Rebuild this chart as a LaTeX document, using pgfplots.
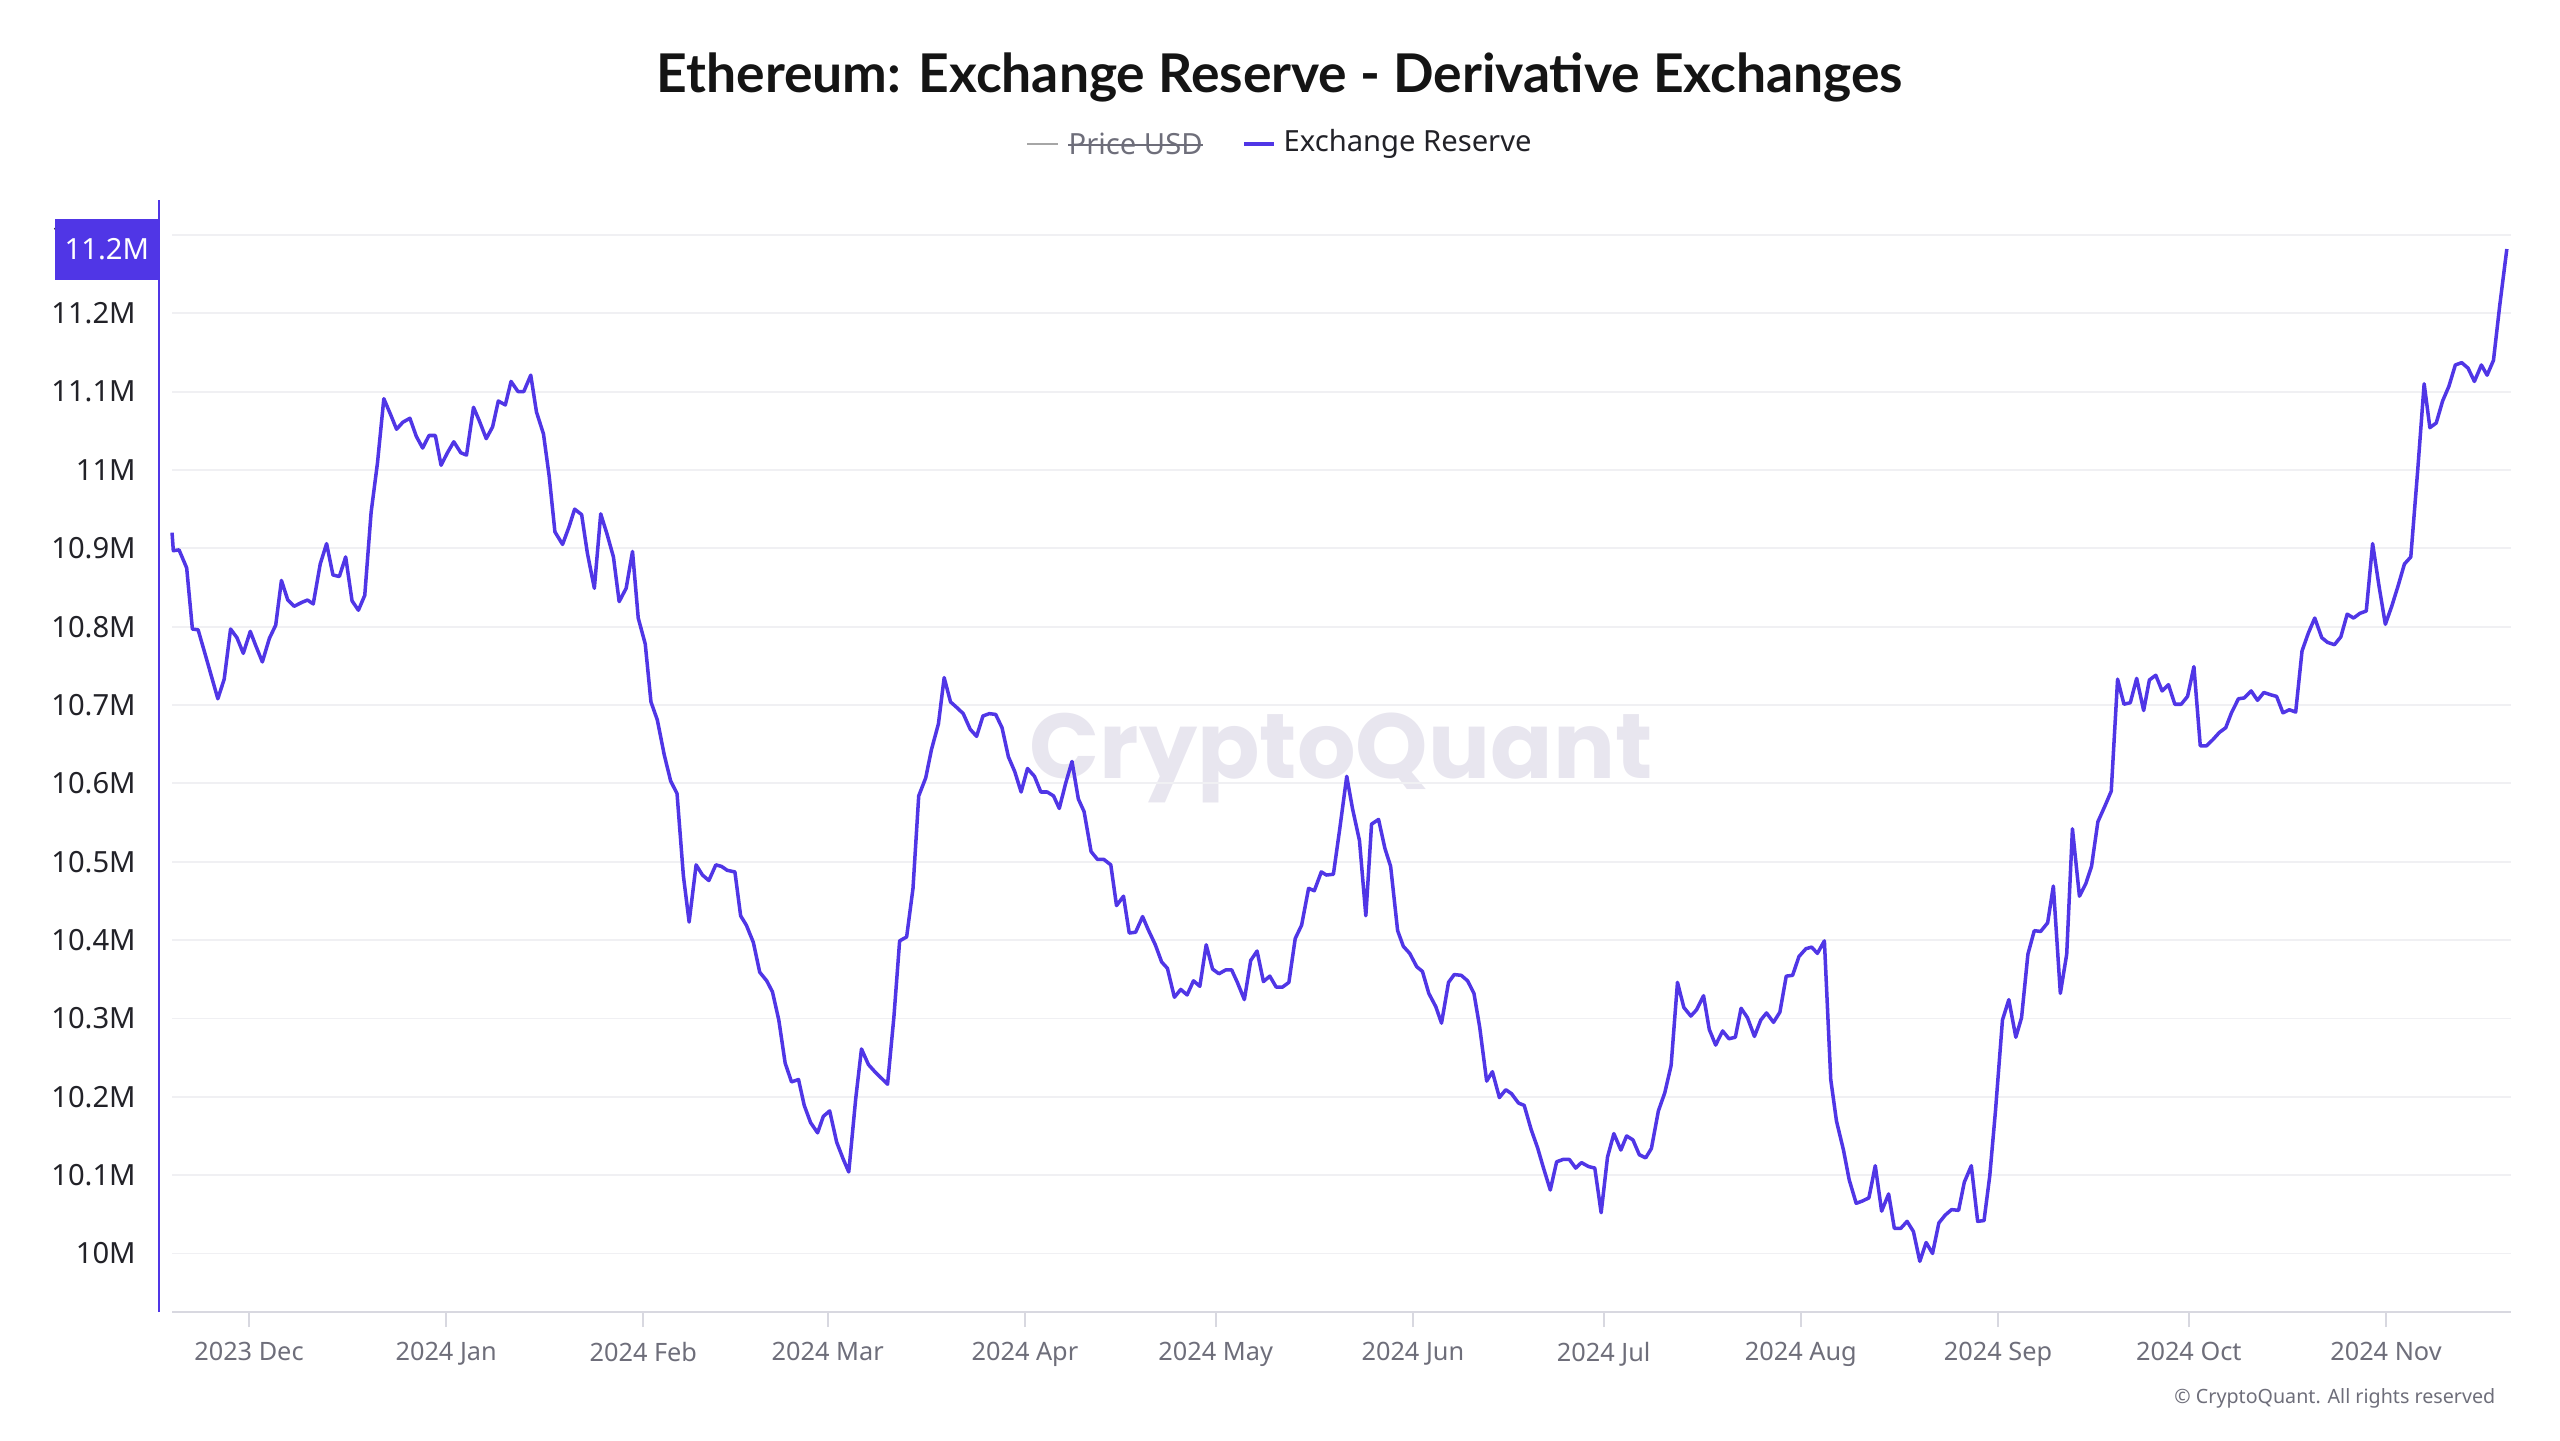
\documentclass[border=0pt]{standalone}
\usepackage{pgfplots}
\pgfplotsset{compat=1.18}
\usepackage{fontspec}
\setmainfont{Noto Sans}
\newfontfamily\wmfont{Poppins}
\newfontfamily\titlefont{Lato}
\definecolor{lineblue}{HTML}{5036E6}
\definecolor{gridcol}{HTML}{F0F0F3}
\definecolor{axgray}{HTML}{D8D8E0}
\definecolor{ticktext}{HTML}{6E6E7A}
\definecolor{ylabtext}{HTML}{222228}
\definecolor{wmcol}{HTML}{E8E6EF}

\begin{document}
\begin{tikzpicture}
\useasboundingbox (0,0) rectangle (25.6,14.4);

% watermark
\node[text=wmcol, font=\wmfont\bfseries\fontsize{26.2}{28}\selectfont] at (13.41,6.82) {CryptoQuant};

% title
\node[font=\titlefont\bfseries\fontsize{15.2}{17}\selectfont, text=black!92] at (12.80,13.63)
  {Ethereum: Exchange Reserve - Derivative Exchanges};

% legend
\draw[color=black!35, line width=0.5pt] (10.27,12.96) -- (10.58,12.96);
\node[anchor=west, inner sep=0pt, text=ticktext, font=\fontsize{8.3}{10}\selectfont] (pu) at (10.68,12.96) {Price USD};
\draw[ticktext, line width=0.5pt] (pu.mid west) -- (pu.mid east);
\draw[lineblue, line width=1pt] (12.44,12.96) -- (12.74,12.96);
\node[anchor=west, inner sep=0pt, text=ylabtext, font=\fontsize{8.3}{10}\selectfont] at (12.83,12.96) {Exchange Reserve};

% copyright
\node[anchor=east, inner sep=0pt, text=ticktext, font=\fontsize{5.6}{7}\selectfont] at (24.96,0.42)
  {\textcopyright{} CryptoQuant. All rights reserved};

\begin{axis}[
  at={(1.72cm,1.28cm)}, anchor=south west,
  width=23.39cm, height=11.12cm, scale only axis,
  xmin=-12.107, xmax=355.66, ymin=9.9253, ymax=11.3446,
  axis x line*=bottom, axis y line*=left,
  x axis line style={-, draw=axgray, line width=0.6pt},
  y axis line style={draw=none},
  ytick={10,10.1,10.2,10.3,10.4,10.5,10.6,10.7,10.8,10.9,11,11.1,11.2,11.3},
  yticklabels={10M,10.1M,10.2M,10.3M,10.4M,10.5M,10.6M,10.7M,10.8M,10.9M,11M,11.1M,11.2M,11.3M},
  xtick={0,31,62,91,122,152,183,213,244,275,305,336},
  xticklabels={2023 Dec,2024 Jan,2024 Feb,2024 Mar,2024 Apr,2024 May,2024 Jun,2024 Jul,2024 Aug,2024 Sep,2024 Oct,2024 Nov},
  ytick style={draw=none},
  xtick style={draw=axgray, line width=0.5pt},
  major tick length=4.3pt, tick align=outside,
  ymajorgrids, major grid style={draw=gridcol, line width=0.5pt},
  yticklabel style={font=\fontsize{8.3}{10}\selectfont, text=ylabtext, xshift=-2.5pt},
  xticklabel style={font=\fontsize{7.2}{9}\selectfont, text=ticktext, yshift=-0.7pt},
  clip=false,
]
\addplot[draw=lineblue, line width=1pt, line join=round, mark=none] coordinates {
(-12.1,10.920) (-11.9,10.897) (-11.0,10.898) (-9.8,10.875) (-8.9,10.797) (-8.0,10.796)
(-6.9,10.765) (-4.9,10.708) (-3.9,10.733) (-2.9,10.797) (-1.9,10.786) (-0.9,10.766)
(0.2,10.794) (1.1,10.775) (2.1,10.755) (3.2,10.785) (4.2,10.802) (5.1,10.859)
(6.1,10.834) (7.1,10.826) (8.3,10.831) (9.2,10.834) (10.1,10.829) (11.2,10.880)
(12.2,10.906) (13.2,10.866) (14.2,10.864) (15.2,10.889) (16.2,10.833) (17.2,10.821)
(18.2,10.840) (19.2,10.946) (20.2,11.009) (21.2,11.091) (22.3,11.070) (23.2,11.052)
(24.2,11.061) (25.3,11.066) (26.3,11.043) (27.3,11.028) (28.3,11.044) (29.3,11.044)
(30.2,11.006) (31.2,11.022) (32.2,11.036) (33.3,11.022) (34.2,11.019) (35.3,11.080)
(36.2,11.063) (37.3,11.040) (38.3,11.055) (39.2,11.088) (40.3,11.083) (41.2,11.113)
(42.3,11.100) (43.2,11.100) (44.3,11.121) (45.2,11.074) (46.3,11.046) (47.2,10.992)
(48.1,10.921) (49.3,10.905)
(50.3,10.927) (51.2,10.950) (52.3,10.943) (53.2,10.894) (54.3,10.849) (55.3,10.944)
(56.3,10.918) (57.3,10.889) (58.2,10.832) (59.3,10.849) (60.3,10.896) (61.2,10.811)
(62.3,10.778) (63.2,10.704) (64.2,10.681) (65.3,10.636) (66.3,10.603) (67.3,10.587)
(68.3,10.482) (69.2,10.423) (70.3,10.496) (71.3,10.483) (72.3,10.476) (73.4,10.496)
(74.3,10.494) (75.2,10.489) (76.4,10.487) (77.3,10.431) (78.2,10.419) (79.3,10.397)
(80.3,10.359) (81.4,10.348) (82.3,10.334) (83.3,10.298) (84.3,10.243) (85.3,10.219)
(86.4,10.222) (87.3,10.189) (88.3,10.167) (89.4,10.154) (90.3,10.175) (91.3,10.182)
(92.4,10.142) (93.4,10.121) (94.3,10.104) (95.4,10.198) (96.3,10.261) (97.4,10.241)
(98.4,10.232) (99.4,10.224) (100.4,10.216) (101.4,10.302) (102.3,10.399) (103.4,10.404)
(104.4,10.466) (105.3,10.584) (106.4,10.607) (107.3,10.643) (108.4,10.676) (109.3,10.735)
(110.3,10.704)
(111.4,10.696) (112.3,10.689) (113.4,10.669) (114.4,10.660) (115.4,10.686) (116.4,10.689)
(117.4,10.688) (118.4,10.671) (119.4,10.634) (120.4,10.615) (121.4,10.589) (122.4,10.619)
(123.5,10.609) (124.5,10.589) (125.5,10.589) (126.5,10.584) (127.4,10.568) (128.4,10.600)
(129.4,10.628) (130.4,10.580) (131.3,10.564) (132.4,10.513) (133.4,10.503) (134.4,10.503)
(135.5,10.496) (136.4,10.444) (137.5,10.456) (138.4,10.409) (139.4,10.410) (140.5,10.430)
(141.4,10.413) (142.5,10.394) (143.5,10.372) (144.4,10.364) (145.5,10.327) (146.5,10.337)
(147.5,10.330) (148.5,10.348) (149.5,10.341) (150.5,10.394) (151.5,10.363) (152.5,10.357)
(153.6,10.362) (154.5,10.362) (155.4,10.346) (156.5,10.324) (157.5,10.374) (158.5,10.386)
(159.5,10.347) (160.5,10.354) (161.5,10.340) (162.5,10.340) (163.5,10.346) (164.5,10.402)
(165.5,10.419) (166.6,10.466) (167.5,10.463) (168.6,10.487) (169.4,10.483) (170.5,10.484)
(171.5,10.542)
(172.6,10.609) (173.5,10.568) (174.6,10.527) (175.6,10.431) (176.5,10.548) (177.6,10.554)
(178.6,10.517) (179.5,10.494) (180.6,10.412) (181.5,10.392) (182.5,10.383) (183.6,10.366)
(184.5,10.360) (185.5,10.332) (186.6,10.315) (187.5,10.294) (188.6,10.346) (189.5,10.356)
(190.6,10.355) (191.6,10.348) (192.6,10.332) (193.5,10.289) (194.6,10.220) (195.5,10.232)
(196.6,10.199) (197.6,10.209) (198.5,10.204) (199.6,10.192) (200.5,10.189) (201.6,10.158)
(202.6,10.135) (203.5,10.110) (204.6,10.081) (205.6,10.117) (206.6,10.120) (207.6,10.120)
(208.6,10.109) (209.5,10.116) (210.6,10.111) (211.6,10.109) (212.6,10.052) (213.6,10.123)
(214.6,10.153) (215.7,10.132) (216.6,10.150) (217.6,10.145) (218.6,10.126) (219.6,10.122)
(220.5,10.134) (221.6,10.182) (222.6,10.205) (223.6,10.240) (224.6,10.346) (225.6,10.314)
(226.7,10.303) (227.6,10.311) (228.7,10.329) (229.6,10.286) (230.6,10.266) (231.7,10.284)
(232.7,10.274)
(233.7,10.276) (234.6,10.313) (235.6,10.301) (236.7,10.277) (237.7,10.298) (238.6,10.307)
(239.7,10.295) (240.7,10.308) (241.7,10.354) (242.7,10.355) (243.7,10.379) (244.8,10.389)
(245.7,10.391) (246.6,10.383) (247.7,10.399) (248.7,10.222) (249.6,10.169) (250.7,10.132)
(251.6,10.094) (252.7,10.064) (253.7,10.067) (254.7,10.071) (255.7,10.112) (256.7,10.054)
(257.8,10.076) (258.7,10.032) (259.7,10.032) (260.7,10.041) (261.7,10.028) (262.7,9.990)
(263.7,10.014) (264.7,10.000) (265.7,10.039) (266.7,10.049) (267.7,10.056) (268.8,10.055)
(269.7,10.091) (270.8,10.112) (271.8,10.041) (272.8,10.042) (273.7,10.099) (274.6,10.182)
(275.7,10.298) (276.7,10.324) (277.8,10.276) (278.7,10.301) (279.7,10.382) (280.7,10.412)
(281.7,10.411) (282.8,10.422) (283.7,10.469) (284.8,10.332) (285.8,10.382) (286.7,10.542)
(287.8,10.456) (288.8,10.472) (289.7,10.494) (290.7,10.551) (291.8,10.571) (292.8,10.590)
(293.8,10.733) (294.8,10.701)
(295.8,10.703) (296.8,10.734) (297.9,10.693) (298.8,10.732) (299.8,10.738) (300.8,10.718)
(301.8,10.726) (302.8,10.701) (303.8,10.701) (304.8,10.711) (305.8,10.749) (306.8,10.648)
(307.8,10.648) (308.8,10.656) (309.8,10.665) (310.8,10.671) (311.7,10.690) (312.8,10.708)
(313.7,10.709) (314.8,10.718) (315.8,10.706) (316.8,10.716) (317.9,10.713) (318.8,10.711)
(319.8,10.690) (320.8,10.694) (321.8,10.691) (322.8,10.769) (323.8,10.792) (324.8,10.811)
(325.9,10.786) (326.8,10.780) (327.9,10.777) (328.9,10.787) (329.9,10.816) (330.9,10.811)
(331.9,10.817) (332.9,10.820) (333.9,10.906) (334.9,10.852) (335.9,10.803) (336.9,10.826)
(337.9,10.852) (338.9,10.880) (339.9,10.889) (341.0,11.001) (342.0,11.110) (342.9,11.054)
(343.9,11.060) (344.9,11.088) (345.9,11.107) (346.9,11.134) (347.9,11.137) (348.9,11.130)
(349.9,11.113) (351.0,11.134) (351.9,11.121) (352.9,11.140) (353.9,11.211) (355.0,11.282)
};
\coordinate (lastpt) at (axis cs:-12.107,11.282);
\coordinate (ybot) at (rel axis cs:0,0);
\coordinate (ytop) at (rel axis cs:0,1);
\end{axis}

% left axis line and current value box
\draw[lineblue, line width=0.8pt] ([xshift=-0.13cm]ybot) -- ([xshift=-0.13cm]ytop);
\node[fill=lineblue, text=white, anchor=east, minimum width=1.03cm, minimum height=0.61cm,
  inner sep=0pt, font=\fontsize{8.3}{10}\selectfont] at ([xshift=-0.13cm]lastpt) {11.2M};
\end{tikzpicture}
\end{document}
